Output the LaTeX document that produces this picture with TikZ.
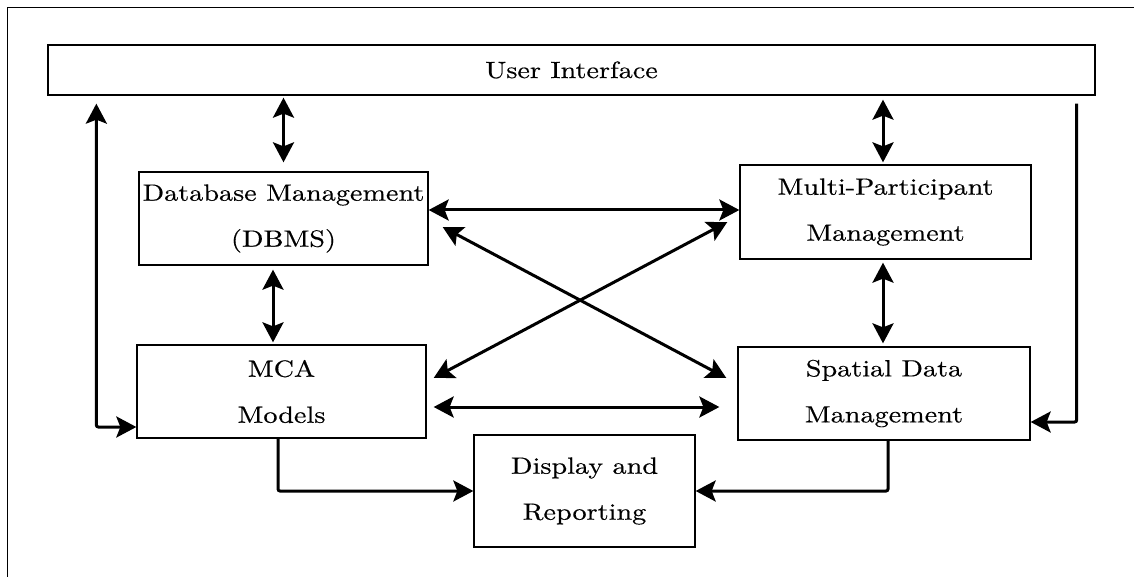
\documentclass[tikz,border=0pt]{standalone}
\usepackage{fontspec}
\setmainfont{lmroman10-regular.otf}[FakeStretch=1.2,FakeBold=0.4]
\usetikzlibrary{arrows.meta,calc}

\tikzset{
  block/.style={draw, line width=1.3pt, inner sep=0pt, align=center,
    font=\fontsize{23.5}{46}\selectfont},
  link/.style={line width=3pt, -{Stealth[length=20pt,width=21pt,inset=4pt]}},
  dlink/.style={line width=3pt, {Stealth[length=20pt,width=21pt,inset=4pt]}-{Stealth[length=20pt,width=21pt,inset=4pt]}},
  frame/.style={line width=1pt}
}

\begin{document}
\begin{tikzpicture}[x=1pt,y=-1pt]
\useasboundingbox (0,0) rectangle (1134,577);

% outer frame (only top and left edges fall inside the page)
\draw[frame] (1134,8) -- (7,8) -- (7,577);

% blocks
\node[block, minimum width=1047pt, minimum height=50pt] (ui) at (571.5,70) {User Interface};
\node[block, minimum width=289pt, minimum height=93pt] (dbms) at (283.5,218.5) {Database Management\\(DBMS)};
\node[block, minimum width=291pt, minimum height=94pt] (mpm) at (885.5,212) {Multi-Participant\\Management};
\node[block, minimum width=289pt, minimum height=93pt] (mca) at (281.5,391.5) {MCA\\Models};
\node[block, minimum width=292pt, minimum height=93pt] (sdm) at (884,393.5) {Spatial Data\\Management};
\node[block, minimum width=221pt, minimum height=112pt] (disp) at (584.5,491) {Display and\\Reporting};

% vertical two-way links
\draw[dlink] ([yshift=-2pt]ui.south -| dbms.north) -- ([yshift=9pt]dbms.north);
\draw[dlink] ($(dbms.south -| mca.north)+(-8.5,4)$) -- ([xshift=-8.5pt,yshift=2pt]mca.north);
\draw[dlink] ($(ui.south -| mpm.north)+(-2.5,4)$) -- ([xshift=-2.5pt,yshift=2pt]mpm.north);
\draw[dlink] ([xshift=-2.5pt,yshift=-3pt]mpm.south) -- ($(sdm.north -| mpm.south)+(-2.5,-3)$);

% horizontal two-way links
\draw[dlink] ([yshift=8.5pt]dbms.east) -- ([yshift=8.5pt]dbms.east -| mpm.west);
\draw[dlink] ([xshift=7pt,yshift=-15.5pt]mca.east) -- ($([yshift=-15.5pt]mca.east -| sdm.west)+(-18,0)$);

% crossing links
\draw[dlink] ($(dbms.east)+(14,8.5)$) -- ($(sdm.west)+(-11,-15.5)$);
\draw[dlink] ($(mca.east)+(7,-13.5)$) -- ($(mpm.west)+(-12,10)$);

% side loops
\draw[dlink, rounded corners=2pt] ([xshift=49pt,yshift=-8pt]ui.south west) |- ([yshift=-35.5pt]mca.west);
\draw[link, rounded corners=2pt] ([xshift=-19pt,yshift=-8pt]ui.south east) |- ([yshift=-28.5pt]sdm.east);

% outputs to display
\draw[link, rounded corners=2pt] ([xshift=-3.5pt]mca.south) |- (disp.west);
\draw[link, rounded corners=2pt] ([xshift=4pt]sdm.south) |- (disp.east);
\end{tikzpicture}
\end{document}
